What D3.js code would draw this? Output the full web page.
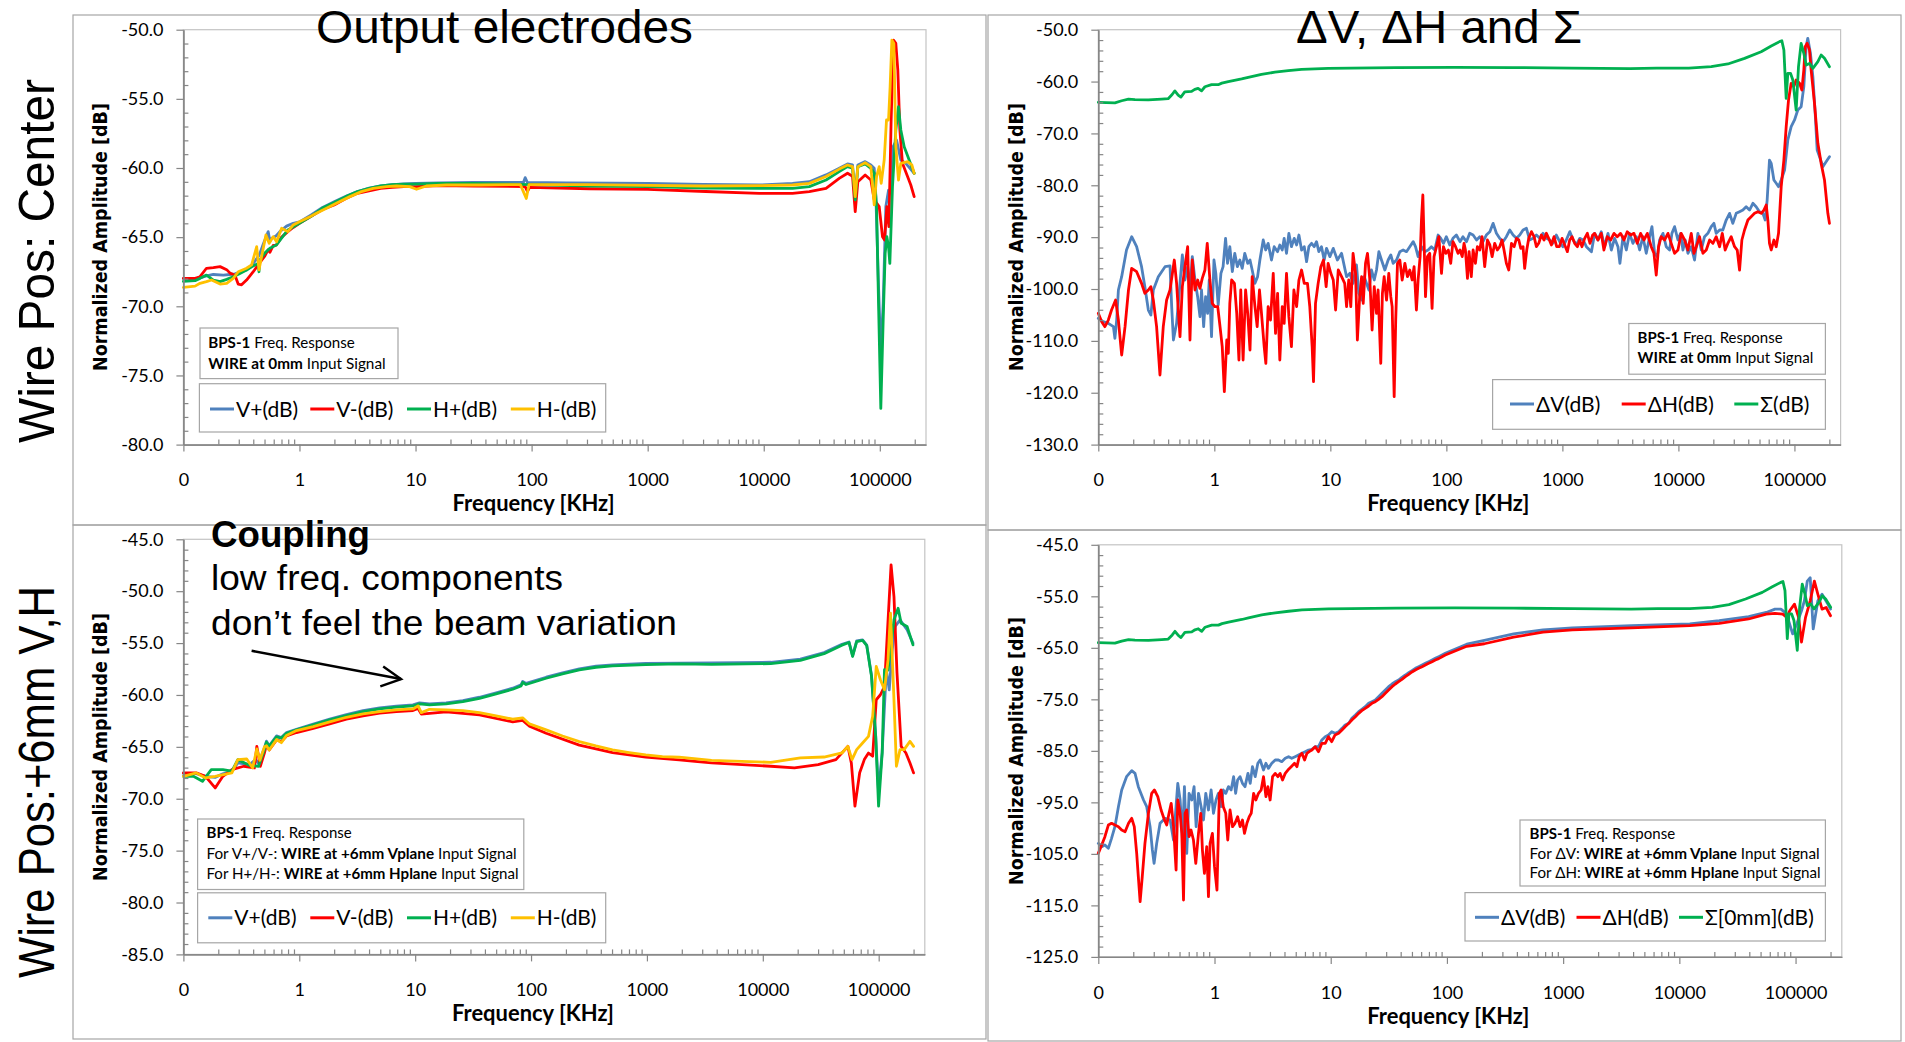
<!DOCTYPE html>
<html>
<head>
<meta charset="utf-8">
<script src="https://cdn.jsdelivr.net/npm/d3@7"></script>
<style>
  html, body { margin: 0; padding: 0; background: #fff; }
  svg { display: block; }
</style>
</head>
<body>
<script>
// ---------- Axis ticks ----------
const xDomain = [0.1, 250000];                       // kHz, log axis (first decade labelled "0")
const xTickValues = [0.1, 1, 10, 100, 1000, 10000, 100000];
const xTickLabels = ['0', '1', '10', '100', '1000', '10000', '100000'];
const yTicksTopLeft = [-50, -55, -60, -65, -70, -75, -80];
const yTicksTopRight = [-50, -60, -70, -80, -90, -100, -110, -120, -130];
const yTicksBottomLeft = [-45, -50, -55, -60, -65, -70, -75, -80, -85];
const yTicksBottomRight = [-45, -55, -65, -75, -85, -95, -105, -115, -125];

// ---------- Wire at centre: electrode outputs [kHz, dB] ----------
const centerVplus = [[0.1,-68.0],[0.126,-68.0],[0.139,-67.95],[0.158,-67.8],[0.181,-67.7],[0.221,-67.75],[0.252,-67.7],[0.278,-67.65],[0.35,-67.37],[0.4,-66.9],[0.45,-66.3],[0.488,-65.5],[0.538,-64.6],[0.556,-65.3],[0.575,-65.1],[0.631,-64.9],[0.678,-64.6],[0.774,-64.2],[0.883,-64.0],[1.0,-63.9],[1.26,-63.4],[1.58,-62.85],[1.99,-62.45],[2.51,-62.05],[3.16,-61.7],[3.98,-61.45],[5.01,-61.3],[6.31,-61.2],[7.94,-61.15],[10,-61.12],[15.8,-61.08],[31.6,-61.05],[60,-61.05],[85,-61.05],[88,-60.7],[92,-61.05],[200,-61.08],[500,-61.1],[1000,-61.12],[3000,-61.18],[9160,-61.23],[17700,-61.11],[24700,-60.99],[34400,-60.5],[44700,-60.02],[52700,-59.71],[58200,-59.78],[61400,-62.07],[64700,-59.78],[74800,-59.54],[83700,-59.78],[89500,-60.02],[92500,-62.07],[97500,-68.58],[102000,-73.4],[106900,-69.8],[112700,-62.79],[118900,-61.6],[124400,-61.83],[130300,-58.46],[139300,-57.98],[151700,-59.42],[167500,-59.66],[197700,-60.38]];
const centerVminus = [[0.1,-67.98],[0.126,-67.98],[0.139,-67.86],[0.158,-67.25],[0.181,-67.2],[0.207,-67.13],[0.236,-67.35],[0.252,-67.6],[0.278,-67.75],[0.297,-68.4],[0.317,-68.45],[0.35,-68.1],[0.4,-67.5],[0.45,-66.9],[0.5,-66.4],[0.538,-65.9],[0.556,-66.1],[0.594,-65.6],[0.631,-65.57],[0.702,-65.0],[0.794,-64.6],[0.883,-64.3],[1.0,-64.0],[1.26,-63.5],[1.58,-63.0],[1.99,-62.67],[2.51,-62.2],[3.16,-61.83],[3.98,-61.66],[5.01,-61.47],[6.31,-61.4],[7.94,-61.35],[10,-61.35],[15.8,-61.28],[31.6,-61.3],[88,-61.35],[92,-61.7],[96,-61.4],[316,-61.5],[1000,-61.55],[3160,-61.7],[9160,-61.83],[17700,-61.83],[24700,-61.71],[34400,-61.47],[44700,-60.75],[52700,-60.38],[58200,-60.6],[61400,-63.16],[64700,-60.99],[74800,-60.5],[83700,-60.87],[89500,-62.3],[98800,-62.79],[105500,-64.97],[109900,-65.21],[115000,-62.79],[119700,-64.24],[125200,-56.53],[131200,-50.75],[137400,-50.99],[142900,-52.9],[148900,-57.25],[156700,-59.66],[173400,-60.62],[184900,-61.23],[197700,-62.07]];
const centerHplus = [[0.1,-68.2],[0.126,-68.15],[0.139,-67.98],[0.158,-67.74],[0.181,-68.1],[0.207,-68.22],[0.236,-68.05],[0.269,-67.86],[0.307,-67.62],[0.35,-67.37],[0.4,-67.08],[0.44,-66.9],[0.448,-67.5],[0.456,-66.65],[0.5,-66.17],[0.556,-65.8],[0.631,-65.57],[0.794,-64.48],[1.0,-64.0],[1.26,-63.5],[1.58,-62.9],[1.99,-62.5],[2.51,-62.07],[3.16,-61.7],[3.98,-61.47],[5.01,-61.3],[6.31,-61.2],[7.94,-61.16],[10,-61.16],[15.8,-61.11],[31.6,-61.11],[100,-61.2],[316,-61.3],[1000,-61.35],[3160,-61.45],[9160,-61.47],[17700,-61.47],[24700,-61.35],[34400,-60.87],[44700,-60.26],[52700,-59.9],[58200,-60.02],[61400,-62.3],[64700,-59.9],[74800,-59.71],[83700,-60.02],[89500,-60.38],[93800,-62.9],[97500,-69.8],[102000,-77.38],[106900,-71.0],[111200,-66.17],[115000,-64.97],[118900,-65.7],[122000,-66.9],[128600,-61.35],[137400,-57.25],[144900,-55.57],[151700,-57.25],[162200,-58.46],[179100,-59.42],[197700,-60.38]];
const centerHminus = [[0.1,-68.63],[0.126,-68.54],[0.139,-68.34],[0.158,-68.22],[0.175,-68.1],[0.207,-68.39],[0.236,-68.34],[0.269,-67.98],[0.297,-67.5],[0.35,-67.25],[0.387,-67.0],[0.428,-65.69],[0.448,-67.37],[0.472,-66.4],[0.514,-64.84],[0.548,-65.45],[0.594,-64.96],[0.635,-65.33],[0.702,-64.36],[0.794,-64.6],[0.883,-64.12],[1.0,-63.88],[1.23,-63.52],[1.4,-63.28],[1.71,-62.91],[2.08,-62.55],[2.72,-62.07],[3.42,-61.71],[4.32,-61.47],[5.61,-61.35],[6.85,-61.3],[8.91,-61.35],[10.2,-61.54],[12.4,-61.3],[18.5,-61.23],[35.7,-61.23],[80,-61.2],[90,-62.2],[95,-61.2],[300,-61.2],[1000,-61.25],[3000,-61.3],[9160,-61.28],[17700,-61.23],[24700,-61.11],[34400,-60.62],[44700,-60.08],[52700,-59.78],[58200,-59.9],[61400,-62.07],[64700,-59.9],[74800,-59.62],[83700,-59.9],[89500,-62.67],[93800,-60.6],[98800,-59.9],[102800,-61.11],[109100,-59.42],[114200,-56.53],[118900,-56.53],[122700,-54.12],[127000,-50.75],[132100,-50.99],[137400,-58.46],[144900,-60.87],[151700,-59.66],[173400,-59.54],[188800,-59.78],[197700,-60.38]];

// ---------- Wire at centre: difference and sum signals [kHz, dB] ----------
const centerDeltaV = [[0.1,-105.65],[0.11,-106.3],[0.122,-106.62],[0.135,-107.26],[0.139,-109.51],[0.144,-105.98],[0.149,-100.19],[0.159,-97.62],[0.175,-92.48],[0.194,-89.91],[0.214,-91.84],[0.236,-95.69],[0.252,-99.55],[0.27,-104.05],[0.284,-105.01],[0.298,-100.19],[0.329,-97.62],[0.376,-95.69],[0.415,-95.56],[0.429,-103.4],[0.444,-109.83],[0.473,-106.62],[0.506,-98.91],[0.53,-93.44],[0.558,-98.26],[0.589,-95.69],[0.617,-100.19],[0.646,-93.76],[0.681,-98.26],[0.718,-101.48],[0.752,-105.33],[0.776,-100.19],[0.809,-107.26],[0.841,-101.48],[0.875,-104.69],[0.904,-98.26],[0.946,-109.19],[0.993,-94.41],[1.03,-96.98],[1.08,-103.08],[1.14,-96.98],[1.19,-95.69],[1.25,-90.23],[1.3,-95.05],[1.36,-91.84],[1.43,-96.66],[1.5,-93.12],[1.58,-95.69],[1.66,-94.41],[1.74,-96.01],[1.83,-93.12],[1.94,-95.05],[2.03,-94.41],[2.12,-96.33],[2.24,-98.91],[2.36,-97.62],[2.47,-94.41],[2.64,-90.55],[2.77,-92.48],[2.91,-91.19],[3.11,-94.41],[3.28,-91.84],[3.51,-92.8],[3.67,-91.51],[3.85,-92.48],[4.0,-90.23],[4.19,-93.12],[4.39,-89.26],[4.62,-91.84],[4.88,-90.23],[5.12,-91.51],[5.36,-89.59],[5.65,-92.48],[5.96,-91.84],[6.24,-94.73],[6.53,-91.84],[6.89,-91.19],[7.26,-91.84],[7.6,-90.87],[7.96,-92.8],[8.39,-91.84],[8.85,-94.41],[9.27,-92.16],[9.91,-93.76],[10.6,-92.16],[11.5,-94.41],[12.5,-93.12],
  [13.8,-97.62],[14.7,-96.98],[15.7,-98.91],[16.8,-95.37],[17.6,-100.83],[18.6,-102.12],[19.6,-97.62],[20.5,-98.91],[21.5,-100.19],[22.6,-96.33],[23.9,-98.26],[25,-96.33],[26.2,-92.8],[27.6,-94.41],[29.5,-96.33],[31.5,-94.41],[33.2,-93.44],[34.8,-95.05],[37.2,-94.41],[39.7,-92.8],[42.4,-92.48],[45.3,-92.8],[48.4,-91.84],[51.8,-90.87],[54.2,-91.84],[57.1,-93.76],[61,-91.84],[65.2,-92.8],[69.7,-92.48],[74.3,-91.84],[79.4,-92.48],[84.9,-89.59],[89.5,-90.23],[94.4,-91.19],[100,-89.91],[107,-91.51],[114,-90.23],[122,-89.59],[131,-90.87],[139,-89.91],[149,-90.87],[159,-89.26],[170,-89.59],[182,-90.55],[194,-89.91],[207,-90.87],[221,-89.59],[237,-88.94],[253,-87.34],[270,-89.26],[288,-90.23],[308,-90.87],[329,-89.91],[352,-88.62],[376,-89.59],[402,-90.23],[429,-89.59],[458,-88.62],[490,-88.3],[522,-90.55],[558,-90.23],[597,-89.59],[638,-90.23],[681,-89.26],[728,-90.23],[778,-90.55],[830,-91.19],[887,-89.59],[948,-90.87],[1010,-91.84],[1080,-90.55],[1160,-88.94],[1240,-90.55],[1320,-91.51],[1410,-90.23],[1510,-90.55],[1610,-91.84],[1780,-92.8],
  [1897,-89.27],[2028,-90.55],[2163,-88.95],[2312,-91.84],[2472,-89.27],[2642,-92.48],[2818,-90.23],[3013,-91.84],[3133,-95.05],[3327,-89.91],[3556,-92.48],[3793,-89.27],[4055,-91.2],[4335,-89.91],[4634,-92.48],[4943,-89.91],[5284,-93.12],[5649,-89.91],[5916,-87.98],[6237,-93.12],[6577,-93.77],[6887,-90.55],[7362,-89.27],[7852,-91.84],[8395,-92.48],[8790,-89.27],[9268,-87.98],[9908,-90.55],[10440,-89.27],[10940,-92.48],[11460,-90.55],[12080,-93.12],[12910,-91.84],[13770,-94.41],[14720,-89.27],[15740,-92.48],[16790,-89.91],[17950,-89.27],[19190,-87.98],[20230,-87.34],[21180,-89.27],[22650,-88.62],[24150,-88.62],[25820,-86.7],[27610,-85.41],[29440,-87.34],[31480,-85.41],[33650,-85.09],[35970,-84.77],[38370,-84.12],[41020,-84.77],[43850,-83.48],[46770,-84.12],[50000,-85.09],[53460,-85.41],[55980,-86.7],[58210,-82.84],[60950,-75.13],[63100,-75.77],[66530,-78.98],[69660,-79.62],[72950,-80.27],[76910,-78.98],[82220,-77.05],[87700,-71.27],[93760,-68.7],[100200,-67.41],[106900,-65.48],[114300,-64.84],[120500,-60.98],[126200,-53.27],[130300,-51.66],[137400,-54.56],[144200,-59.06],[151000,-66.13],[157000,-73.2],[164400,-74.48],[175800,-76.41],[187500,-75.45],[200400,-74.48]];
const centerDeltaH = [[0.1,-104.69],[0.107,-106.3],[0.114,-107.26],[0.122,-105.98],[0.13,-104.05],[0.141,-102.12],[0.149,-105.98],[0.159,-112.72],[0.17,-107.26],[0.182,-100.19],[0.194,-96.01],[0.214,-96.66],[0.236,-98.91],[0.252,-100.83],[0.27,-100.19],[0.284,-99.55],[0.298,-102.12],[0.318,-107.26],[0.34,-116.58],[0.363,-107.26],[0.388,-102.12],[0.415,-100.19],[0.452,-94.41],[0.473,-98.91],[0.506,-109.19],[0.53,-99.55],[0.558,-95.69],[0.589,-91.84],[0.617,-109.83],[0.646,-94.41],[0.681,-100.19],[0.718,-98.26],[0.752,-99.87],[0.787,-97.94],[0.83,-96.33],[0.869,-91.19],[0.916,-98.26],[0.959,-102.76],[1.01,-103.4],[1.07,-103.4],[1.12,-107.26],[1.17,-111.12],[1.22,-119.8],[1.28,-109.83],[1.32,-112.4],[1.36,-102.76],[1.41,-98.26],[1.49,-98.91],[1.56,-104.69],[1.63,-113.69],[1.69,-100.19],[1.77,-113.69],[1.86,-100.19],[1.94,-104.69],[2.03,-111.76],[2.12,-97.62],[2.24,-103.4],[2.34,-107.26],[2.45,-100.19],[2.55,-104.69],[2.69,-111.12],[2.78,-114.33],[2.91,-103.4],[3.05,-105.98],[3.22,-96.98],[3.37,-108.55],[3.51,-100.83],[3.67,-113.69],[3.85,-103.4],[4.0,-106.62],[4.19,-96.98],[4.39,-105.33],[4.62,-111.12],[4.85,-100.19],[5.12,-103.4],[5.36,-98.26],[5.65,-96.33],[5.96,-98.91],[6.35,-98.91],[6.65,-103.4],[6.97,-111.12],[7.16,-117.87],[7.45,-102.76],[7.85,-98.91],[8.28,-95.69],[8.73,-94.41],[9.2,-99.55],[9.57,-95.05],[10.1,-96.98],[10.6,-98.26],[11.1,-104.05],[11.7,-96.33],[12.5,-97.62],
  [13.3,-98.91],[13.8,-103.4],[14.4,-98.26],[15,-103.4],[15.7,-93.12],[16.5,-96.98],[17.1,-109.83],[17.9,-101.48],[18.6,-97.62],[19.2,-102.76],[20.1,-95.05],[20.9,-93.12],[21.9,-98.26],[22.9,-107.9],[23.9,-99.55],[25,-104.69],[25.8,-100.19],[27.2,-114.33],[28.1,-100.83],[29.1,-97.62],[30.5,-102.12],[31.9,-96.98],[33.2,-101.48],[34.1,-103.4],[35.5,-120.76],[36.6,-105.98],[37.9,-95.05],[39.7,-94.41],[41.6,-98.26],[43.9,-95.05],[46.2,-97.62],[48.4,-96.33],[50.7,-98.26],[52.7,-95.69],[55.2,-104.05],[57.1,-98.26],[59.4,-93.76],[61,-86.69],[62.7,-81.87],[64.3,-91.19],[66.1,-101.48],[68.7,-93.76],[71.9,-93.12],[75.3,-103.73],[78.3,-93.76],[82.2,-91.84],[86.1,-89.91],[90.8,-96.98],[94.4,-91.84],[98.9,-93.12],[104,-92.48],[109,-95.05],[114,-90.87],[120,-91.84],[126,-93.12],[131,-92.48],[137,-93.76],[142,-91.19],[146,-92.48],[152,-97.94],[157,-92.8],[164,-97.62],[170,-92.48],[178,-95.05],[185,-91.84],[194,-92.48],[203,-89.91],[214,-95.69],[226,-90.55],[237,-91.51],[248,-93.76],[261,-91.19],[275,-92.48],[288,-91.84],[302,-90.55],[314,-92.48],[329,-95.05],[345,-96.33],[364,-91.19],[384,-91.84],[402,-90.23],[421,-90.55],[438,-92.16],[458,-91.84],[473,-96.01],[493,-92.48],[513,-90.23],[541,-88.94],[570,-89.91],[597,-91.84],[625,-91.19],[659,-89.59],[695,-90.55],[728,-89.26],[762,-90.23],[804,-91.51],[847,-89.91],[893,-91.84],[942,-91.84],[993,-90.23],[1047,-91.51],[1104,-92.8],[1156,-90.55],[1211,-89.91],[1276,-91.19],[1346,-91.84],[1409,-90.55],[1476,-91.84],[1556,-90.23],[1641,-89.26],[1730,-91.19],[1824,-89.59],
  [1897,-89.27],[2028,-90.55],[2163,-89.27],[2280,-92.48],[2438,-89.91],[2606,-90.55],[2786,-89.27],[2972,-89.91],[3177,-89.27],[3396,-90.55],[3622,-88.95],[3873,-89.59],[4140,-89.27],[4416,-91.2],[4721,-89.27],[5047,-90.55],[5395,-89.27],[5834,-91.84],[6152,-93.12],[6442,-97.3],[6745,-91.84],[7112,-89.91],[7603,-90.55],[8128,-89.27],[8670,-91.2],[9268,-93.12],[9908,-92.48],[10570,-89.27],[11300,-90.55],[12080,-92.48],[12910,-89.27],[13610,-93.12],[14260,-91.84],[15210,-89.91],[16260,-93.12],[17380,-92.48],[18580,-90.55],[19820,-91.2],[21180,-89.91],[22650,-91.84],[23880,-89.27],[25290,-92.48],[26670,-91.2],[28510,-89.91],[30480,-91.84],[32140,-92.48],[33650,-96.34],[35240,-90.55],[37150,-88.62],[39720,-86.7],[42360,-86.05],[45290,-85.41],[48420,-85.09],[51760,-85.41],[54580,-84.77],[57150,-83.8],[59020,-86.7],[60950,-91.2],[63100,-92.48],[66530,-90.55],[69660,-91.84],[72950,-89.27],[76910,-80.27],[81100,-75.13],[84920,-68.7],[88920,-63.56],[93760,-60.34],[98860,-60.98],[103500,-59.7],[110700,-60.34],[115900,-61.63],[120500,-57.77],[123800,-53.27],[128800,-52.63],[134900,-53.92],[139300,-57.77],[148900,-64.2],[159200,-71.91],[169900,-75.77],[181600,-78.98],[194100,-85.41],[200400,-87.34]];
const sigma0mm = [[0.1,-64.0],[0.139,-64.1],[0.159,-63.7],[0.182,-63.4],[0.207,-63.5],[0.27,-63.55],[0.351,-63.4],[0.4,-63.3],[0.433,-62.5],[0.457,-61.8],[0.488,-62.6],[0.515,-63.0],[0.556,-62.0],[0.637,-61.9],[0.679,-61.5],[0.725,-61.3],[0.776,-61.8],[0.83,-61.0],[0.946,-60.6],[1.08,-60.6],[1.16,-60.3],[1.32,-60.0],[1.72,-59.5],[1.96,-59.2],[2.55,-58.6],[3.33,-58.2],[4.34,-57.9],[5.65,-57.65],[9.57,-57.45],[36.5,-57.3],[117,-57.25],[375,-57.3],[1200,-57.4],[3840,-57.5],[6500,-57.4],[12300,-57.4],[19190,-57.13],[26700,-56.61],[37150,-55.52],[51700,-54.24],[63100,-53.15],[74400,-52.3],[77900,-52.12],[81100,-53.9],[84900,-63.23],[87700,-58.41],[92500,-58.41],[96900,-59.7],[103500,-65.48],[108400,-57.13],[114200,-52.63],[120500,-54.56],[126200,-56.81],[134900,-56.5],[144200,-57.45],[159200,-56.17],[169900,-54.88],[181600,-55.52],[200400,-57.13]];

// ---------- Wire at +6 mm: electrode outputs [kHz, dB] ----------
const offsetVplus = [[0.1,-67.58],[0.129,-67.58],[0.155,-67.84],[0.188,-67.94],[0.219,-67.6],[0.262,-67.35],[0.295,-66.55],[0.373,-66.71],[0.42,-66.23],[0.445,-66.6],[0.5,-65.1],[0.521,-64.45],[0.55,-64.9],[0.637,-63.95],[0.7,-64.1],[0.776,-63.62],[0.946,-63.3],[1.32,-62.8],[1.83,-62.32],[2.55,-61.9],[3.55,-61.5],[4.94,-61.25],[6.87,-61.08],[9.57,-60.96],[10.9,-60.76],[13.3,-60.86],[18.5,-60.76],[25.8,-60.54],[35.9,-60.22],[50,-59.8],[69.5,-59.35],[82,-59.03],[84.7,-58.7],[90.6,-58.89],[135,-58.29],[187,-57.87],[261,-57.49],[363,-57.23],[505,-57.1],[977,-56.97],[1897,-56.93],[3614,-56.92],[11720,-56.85],[21090,-56.55],[33810,-55.92],[48190,-55.12],[55460,-54.9],[59570,-56.2],[64570,-54.8],[72610,-54.7],[78890,-55.2],[86700,-58.1],[94190,-63.9],[99770,-69.4],[107200,-65.5],[116400,-57.57],[123300,-59.5],[130900,-55.65],[138700,-53.4],[152800,-52.76],[175800,-53.72],[197700,-55.0]];
const offsetVminus = [[0.1,-67.51],[0.129,-67.51],[0.155,-67.84],[0.188,-68.96],[0.219,-67.84],[0.262,-67.2],[0.332,-66.87],[0.41,-67.03],[0.43,-64.95],[0.461,-66.87],[0.5,-65.6],[0.521,-64.8],[0.55,-65.3],[0.637,-64.33],[0.7,-64.5],[0.776,-63.95],[0.946,-63.62],[1.32,-63.21],[1.83,-62.79],[2.55,-62.34],[3.55,-62.02],[4.94,-61.76],[6.87,-61.6],[9.57,-61.5],[10.6,-61.3],[11.3,-61.85],[18.5,-61.63],[35.9,-61.92],[69.5,-62.6],[84.7,-62.45],[96.8,-63.0],[135,-63.69],[261,-64.84],[505,-65.55],[977,-66.0],[1897,-66.26],[3614,-66.55],[11720,-66.87],[18750,-67.03],[30060,-66.71],[42760,-66.23],[54200,-64.95],[58070,-66.55],[62370,-70.72],[68550,-67.5],[75160,-66.23],[81660,-65.6],[88720,-65.9],[95280,-60.46],[103500,-59.98],[112200,-59.18],[120500,-52.76],[127900,-47.47],[135500,-50.52],[143900,-57.89],[156300,-64.95],[171800,-65.59],[186200,-66.55],[200000,-67.51]];
const offsetHplus = [[0.1,-67.84],[0.122,-67.84],[0.146,-68.32],[0.174,-67.19],[0.219,-67.19],[0.262,-67.35],[0.295,-66.23],[0.373,-66.8],[0.445,-66.87],[0.5,-65.27],[0.521,-64.55],[0.55,-64.95],[0.637,-64.05],[0.7,-64.15],[0.776,-63.69],[0.946,-63.37],[1.32,-62.88],[1.83,-62.4],[2.55,-61.99],[3.55,-61.6],[4.94,-61.35],[6.87,-61.18],[9.57,-61.06],[10.9,-60.86],[13.3,-60.96],[18.5,-60.86],[25.8,-60.64],[35.9,-60.32],[50,-59.9],[69.5,-59.45],[82,-59.13],[84.7,-58.8],[90.6,-58.99],[135,-58.39],[187,-57.97],[261,-57.59],[363,-57.33],[505,-57.2],[977,-57.07],[1897,-57.01],[3614,-57.05],[11720,-56.98],[21090,-56.66],[33810,-56.02],[48190,-55.2],[55460,-54.94],[59570,-56.29],[64570,-54.85],[72610,-54.75],[78890,-55.25],[86700,-58.21],[94190,-63.99],[99770,-70.72],[107200,-65.59],[112200,-57.57],[120500,-57.6],[135500,-52.76],[147200,-51.64],[156300,-53.1],[175800,-53.4],[197700,-55.17]];
const offsetHminus = [[0.1,-67.84],[0.129,-67.51],[0.155,-68.0],[0.188,-67.84],[0.262,-67.51],[0.295,-66.23],[0.352,-66.17],[0.396,-67.03],[0.43,-65.2],[0.457,-66.3],[0.5,-65.0],[0.521,-64.9],[0.55,-65.3],[0.637,-64.3],[0.7,-64.6],[0.776,-63.9],[0.946,-63.43],[1.32,-63.05],[1.83,-62.6],[2.55,-62.15],[3.55,-61.83],[4.94,-61.6],[6.87,-61.44],[9.57,-61.35],[10.6,-61.05],[11.3,-61.7],[13.3,-61.38],[18.5,-61.44],[25.8,-61.5],[35.9,-61.7],[50,-62.02],[69.5,-62.34],[84.7,-62.2],[96.8,-62.79],[135,-63.37],[187,-63.95],[261,-64.49],[363,-64.91],[505,-65.29],[703,-65.55],[977,-65.78],[1361,-65.94],[1897,-66.0],[3614,-66.3],[11720,-66.49],[21090,-66.07],[33810,-65.98],[48190,-65.59],[54200,-64.95],[58880,-66.23],[64570,-65.27],[72610,-64.63],[81660,-63.99],[88720,-62.06],[95280,-57.25],[103500,-58.53],[112200,-59.5],[120500,-56.6],[126500,-52.12],[135500,-60.5],[142200,-66.87],[152800,-65.27],[165600,-65.27],[186200,-64.47],[200000,-64.95]];

// ---------- Wire at +6 mm: difference signals [kHz, dB] ----------
const offsetDeltaV = [[0.1,-102.96],[0.107,-103.6],[0.114,-103.28],[0.122,-103.93],[0.13,-101.98],[0.139,-99.72],[0.149,-95.84],[0.159,-92.6],[0.175,-90.01],[0.194,-88.85],[0.207,-89.37],[0.221,-91.95],[0.245,-94.54],[0.261,-95.84],[0.279,-99.72],[0.292,-104.25],[0.302,-106.84],[0.318,-102.96],[0.34,-99.07],[0.376,-98.1],[0.415,-98.42],[0.444,-102.31],[0.483,-91.31],[0.506,-94.54],[0.53,-102.31],[0.551,-91.95],[0.577,-104.9],[0.604,-93.25],[0.637,-94.54],[0.667,-91.95],[0.695,-99.72],[0.728,-93.25],[0.767,-95.84],[0.804,-98.42],[0.841,-93.25],[0.887,-96.48],[0.935,-92.6],[0.98,-97.13],[1.03,-94.54],[1.08,-93.25],[1.14,-95.84],[1.19,-92.6],[1.25,-93.25],[1.32,-91.95],[1.39,-92.6],[1.46,-90.01],[1.52,-93.25],[1.58,-90.66],[1.66,-90.01],[1.74,-91.31],[1.83,-91.95],[1.94,-89.37],[2.03,-91.31],[2.12,-88.07],[2.24,-90.01],[2.36,-87.42],[2.47,-86.78],[2.64,-88.72],[2.77,-87.42],[2.91,-88.4],[3.11,-87.42],[3.33,-86.78],[3.55,-86.78],[3.79,-87.1],[4.06,-86.45],[4.34,-86.13],[4.62,-86.45],[4.94,-86.13],[5.28,-85.81],[5.65,-85.48],[6.03,-85.16],[6.44,-84.84],[6.89,-84.71],[7.36,-84.19],[7.85,-84.19],[8.39,-82.89],[8.97,-82.25],[9.57,-81.92],[10.2,-81.28],[10.9,-81.6],[11.7,-81.28],[12.5,-80.63],[13.3,-79.98],[14.3,-79.66],[15.2,-78.69],[16.3,-78.04],[17.4,-77.39],[18.5,-76.94],[19.8,-76.42],[21.2,-75.78],[22.6,-75.45],[24.2,-75.13],[25.8,-74.48],[27.6,-73.83],[29.5,-73.19],[31.5,-72.54],[33.7,-72.02],[36,-71.57],[38.4,-71.25],[41,-70.73],[43.9,-70.28],[46.9,-69.82],[50,-69.43],[53.5,-68.98],[57.1,-68.66],[61.1,-68.33],[65.2,-68.01],[69.7,-67.69],[74.5,-67.36],[79.4,-67.04],[84.9,-66.72],[90.8,-66.39],[96.8,-66.07],[148,-64.3],[210,-63.57],[375,-62.29],[671,-61.52],[1200,-61.13],[3846,-60.69],[12300,-60.37],[22030,-59.73],[39450,-58.96],[55980,-58.13],[66530,-57.49],[74820,-57.49],[81100,-58.13],[87100,-59.73],[94410,-62.29],[102300,-60.37],[112500,-57.8],[119100,-55.88],[126200,-52.04],[133700,-51.4],[141900,-61.33],[155600,-55.88],[169000,-54.6],[189700,-56.52],[200000,-57.49]];
const offsetDeltaH = [[0.1,-104.9],[0.107,-103.28],[0.114,-101.66],[0.122,-99.4],[0.13,-99.07],[0.139,-99.4],[0.149,-99.72],[0.159,-100.37],[0.17,-100.69],[0.182,-99.07],[0.194,-98.1],[0.204,-99.72],[0.214,-104.9],[0.221,-109.43],[0.229,-114.28],[0.239,-109.43],[0.252,-102.96],[0.27,-97.13],[0.288,-93.25],[0.304,-92.6],[0.325,-93.9],[0.347,-96.48],[0.371,-98.42],[0.388,-99.4],[0.406,-97.13],[0.424,-95.19],[0.444,-99.72],[0.467,-108.13],[0.483,-94.54],[0.506,-97.13],[0.523,-101.01],[0.541,-113.96],[0.558,-97.13],[0.577,-96.48],[0.604,-101.66],[0.628,-100.37],[0.659,-102.31],[0.69,-106.84],[0.728,-101.01],[0.762,-97.13],[0.787,-104.25],[0.819,-108.78],[0.857,-103.6],[0.887,-113.31],[0.916,-102.96],[0.959,-101.01],[1.0,-107.48],[1.05,-112.01],[1.1,-93.25],[1.14,-92.6],[1.19,-95.84],[1.25,-97.13],[1.3,-102.31],[1.36,-96.48],[1.43,-99.72],[1.5,-99.07],[1.58,-97.78],[1.66,-99.72],[1.74,-98.42],[1.81,-101.01],[1.9,-99.07],[1.99,-97.78],[2.07,-97.13],[2.17,-93.25],[2.27,-94.54],[2.39,-93.25],[2.52,-92.6],[2.64,-90.01],[2.77,-93.9],[2.88,-91.95],[3.01,-94.54],[3.16,-90.01],[3.33,-89.37],[3.51,-90.01],[3.67,-89.37],[3.85,-90.66],[4.06,-89.37],[4.28,-88.72],[4.57,-88.07],[4.88,-87.42],[5.12,-88.07],[5.36,-86.13],[5.65,-85.48],[5.96,-86.78],[6.24,-85.48],[6.53,-85.16],[6.89,-84.84],[7.36,-84.19],[7.85,-85.16],[8.39,-83.54],[8.97,-83.54],[9.57,-82.25],[10.2,-83.22],[10.9,-81.92],[11.7,-81.6],[12.5,-80.95],[13.3,-80.31],[14.3,-79.66],[15.2,-79.01],[16.3,-78.37],[17.4,-77.72],[18.5,-77.2],[19.8,-76.75],[21.2,-76.29],[22.6,-75.78],[24.2,-75.45],[25.8,-75.0],[27.6,-74.48],[29.5,-73.83],[31.5,-73.19],[33.7,-72.54],[36,-72.02],[38.4,-71.57],[41,-71.12],[43.9,-70.6],[46.9,-70.15],[50,-69.69],[53.5,-69.3],[57.1,-68.98],[61.1,-68.66],[65.2,-68.33],[69.7,-68.01],[74.5,-67.69],[79.4,-67.36],[84.9,-67.1],[90.8,-66.72],[96.8,-66.39],[148,-64.7],[210,-64.21],[375,-62.93],[671,-61.97],[1200,-61.52],[3846,-61.13],[12300,-60.69],[22030,-60.24],[39450,-59.4],[55980,-58.45],[66530,-58.32],[77600,-58.45],[84140,-59.08],[89100,-57.8],[97900,-56.52],[106200,-59.08],[112500,-63.89],[121900,-59.08],[133700,-55.88],[145200,-52.04],[155600,-54.6],[169000,-57.49],[183300,-57.17],[200000,-58.77]];

// ---------- Layout ----------
const W = 1905, H = 1042;
const COLORS = { blue: '#4F81BD', red: '#FF0000', green: '#00B050', yellow: '#FFC000' };
const TICK_FONT = 'Lato, "Noto Sans", sans-serif';

const svg = d3.select('body').append('svg')
  .attr('width', W).attr('height', H)
  .attr('viewBox', `0 0 ${W} ${H}`);

const panels = [
  {
    frame: [73, 15, 986, 525], plot: [183.4, 29.7, 926, 444.6],
    yTicks: yTicksTopLeft, yMinor: 1,
    series: [
      { data: centerVplus, color: COLORS.blue },
      { data: centerVminus, color: COLORS.red },
      { data: centerHplus, color: COLORS.green },
      { data: centerHminus, color: COLORS.yellow }
    ],
    title: { text: 'Output electrodes', x: 504.5, y: 43, len: 377 },
    xTitle: { x: 533.6, y: 511 }, yTitle: { x: 107, y: 237 }, xLabelPad: 22,
    note: { box: [200, 328, 398, 378.6], x: 208.3, ys: [348.2, 368.5], lens: [146.5, 177.3],
      lines: [[['BPS-1', true], [' Freq. Response', false]],
              [['WIRE at 0mm', true], [' Input Signal', false]]] },
    legend: { box: [199.4, 383.7, 605.7, 432], lineY: 409, textY: 416.5,
      items: [[210, 'V+(dB)', COLORS.blue], [310.3, 'V-(dB)', COLORS.red], [407, 'H+(dB)', COLORS.green], [510.8, 'H-(dB)', COLORS.yellow]] }
  },
  {
    frame: [988, 15, 1901, 530], plot: [1098.3, 29.7, 1840.6, 444.6],
    yTicks: yTicksTopRight, yMinor: 2,
    series: [
      { data: centerDeltaV, color: COLORS.blue },
      { data: centerDeltaH, color: COLORS.red },
      { data: sigma0mm, color: COLORS.green }
    ],
    title: { text: 'ΔV, ΔH and Σ', x: 1439, y: 43, len: 286 },
    xTitle: { x: 1448.3, y: 511 }, yTitle: { x: 1022.7, y: 237 }, xLabelPad: 22,
    note: { box: [1628.8, 323.5, 1825.4, 374.2], x: 1637.6, ys: [342.5, 362.7], lens: [145, 175.7],
      lines: [[['BPS-1', true], [' Freq. Response', false]],
              [['WIRE at 0mm', true], [' Input Signal', false]]] },
    legend: { box: [1492.6, 379.6, 1825.4, 429.3], lineY: 404, textY: 411.5,
      items: [[1510, 'ΔV(dB)', COLORS.blue], [1621.7, 'ΔH(dB)', COLORS.red], [1734.3, 'Σ(dB)', COLORS.green]] }
  },
  {
    frame: [73, 525, 986, 1039], plot: [183.4, 539.3, 924.8, 954.4],
    yTicks: yTicksBottomLeft, yMinor: 1,
    series: [
      { data: offsetVplus, color: COLORS.blue },
      { data: offsetVminus, color: COLORS.red },
      { data: offsetHplus, color: COLORS.green },
      { data: offsetHminus, color: COLORS.yellow }
    ],
    title: null,
    xTitle: { x: 533, y: 1021 }, yTitle: { x: 107, y: 747 }, xLabelPad: 22,
    note: { box: [197.6, 819, 523.8, 889.5], x: 206.5, ys: [838, 858.9, 878.9], lens: [145.3, 310.2, 312],
      lines: [[['BPS-1', true], [' Freq. Response', false]],
              [['For V+/V-: ', false], ['WIRE at +6mm Vplane', true], [' Input Signal', false]],
              [['For H+/H-: ', false], ['WIRE at +6mm Hplane', true], [' Input Signal', false]]] },
    legend: { box: [197.6, 892.8, 605.7, 942.8], lineY: 917.8, textY: 925,
      items: [[208.3, 'V+(dB)', COLORS.blue], [310.3, 'V-(dB)', COLORS.red], [407, 'H+(dB)', COLORS.green], [510.8, 'H-(dB)', COLORS.yellow]] }
  },
  {
    frame: [988, 530, 1901, 1041], plot: [1098.3, 544.8, 1841.8, 956.9],
    yTicks: yTicksBottomRight, yMinor: 2,
    series: [
      { data: offsetDeltaV, color: COLORS.blue },
      { data: offsetDeltaH, color: COLORS.red },
      { data: sigma0mm, color: COLORS.green }
    ],
    title: null,
    xTitle: { x: 1448.3, y: 1024 }, yTitle: { x: 1022.7, y: 751 }, xLabelPad: 22,
    note: { box: [1520, 820, 1825.4, 886], x: 1529.6, ys: [838.9, 858.7, 878.4], lens: [145.5, 290, 291],
      lines: [[['BPS-1', true], [' Freq. Response', false]],
              [['For ΔV: ', false], ['WIRE at +6mm Vplane', true], [' Input Signal', false]],
              [['For ΔH: ', false], ['WIRE at +6mm Hplane', true], [' Input Signal', false]]] },
    legend: { box: [1465, 892.6, 1825.4, 941], lineY: 917.3, textY: 924.5,
      items: [[1475, 'ΔV(dB)', COLORS.blue], [1576.5, 'ΔH(dB)', COLORS.red], [1679, 'Σ[0mm](dB)', COLORS.green]] }
  }
];

function styleAxis(sel, withText) {
  sel.select('.domain').attr('stroke', '#868686').attr('stroke-width', 1.3);
  sel.selectAll('.tick line').attr('stroke', '#868686').attr('stroke-width', 1.2);
  if (withText) {
    sel.selectAll('.tick text')
      .attr('fill', '#000')
      .style('font-family', TICK_FONT)
      .style('font-size', '18px');
  }
}

function drawPanel(cfg) {
  const [fx0, fy0, fx1, fy1] = cfg.frame;
  const [px0, py0, px1, py1] = cfg.plot;
  const g = svg.append('g');

  g.append('rect')
    .attr('x', fx0).attr('y', fy0).attr('width', fx1 - fx0).attr('height', fy1 - fy0)
    .attr('fill', 'none').attr('stroke', '#a6a6a6').attr('stroke-width', 1.2);

  const x = d3.scaleLog().domain(xDomain).range([px0, px1]);
  const y = d3.scaleLinear().domain([d3.min(cfg.yTicks), d3.max(cfg.yTicks)]).range([py1, py0]);

  // plot-area border
  g.append('rect')
    .attr('x', px0).attr('y', py0).attr('width', px1 - px0).attr('height', py1 - py0)
    .attr('fill', 'none').attr('stroke', '#c4c4c4').attr('stroke-width', 1.2);

  // data lines
  const line = d3.line().x(d => x(d[0])).y(d => y(d[1]));
  cfg.series.forEach(s => {
    g.append('path')
      .attr('d', line(s.data))
      .attr('fill', 'none')
      .attr('stroke', s.color)
      .attr('stroke-width', 2.8)
      .attr('stroke-linejoin', 'round')
      .attr('stroke-linecap', 'round');
  });

  // minor ticks (inside)
  const yMin = d3.min(cfg.yTicks), yMax = d3.max(cfg.yTicks);
  const yMinorVals = d3.range(yMin, yMax + 1e-9, cfg.yMinor).filter(v => !cfg.yTicks.includes(v));
  const yMinorAxis = g.append('g').attr('transform', `translate(${px0},0)`)
    .call(d3.axisLeft(y).tickValues(yMinorVals).tickSizeInner(-5).tickSizeOuter(0).tickFormat(''));
  styleAxis(yMinorAxis, false);

  const xMinorVals = [];
  for (let e = -1; e <= 5; e++) {
    for (let m = 2; m <= 9; m++) {
      const v = m * Math.pow(10, e);
      if (v <= xDomain[1]) xMinorVals.push(v);
    }
  }
  const xMinorAxis = g.append('g').attr('transform', `translate(0,${py1})`)
    .call(d3.axisBottom(x).tickValues(xMinorVals).tickSizeInner(-5).tickSizeOuter(0).tickFormat(''));
  styleAxis(xMinorAxis, false);

  // major axes
  const yAxis = g.append('g').attr('transform', `translate(${px0},0)`)
    .call(d3.axisLeft(y).tickValues(cfg.yTicks).tickSizeInner(7).tickSizeOuter(0).tickPadding(13)
      .tickFormat(d => d.toFixed(1)));
  styleAxis(yAxis, true);

  const xAxis = g.append('g').attr('transform', `translate(0,${py1})`)
    .call(d3.axisBottom(x).tickValues(xTickValues).tickSizeInner(7).tickSizeOuter(0).tickPadding(cfg.xLabelPad)
      .tickFormat((d, i) => xTickLabels[i]));
  styleAxis(xAxis, true);

  // axis titles
  g.append('text')
    .attr('x', cfg.xTitle.x).attr('y', cfg.xTitle.y)
    .attr('text-anchor', 'middle')
    .attr('textLength', 162).attr('lengthAdjust', 'spacingAndGlyphs')
    .style('font-family', TICK_FONT).style('font-size', '22px').style('font-weight', 'bold')
    .text('Frequency [KHz]');

  g.append('text')
    .attr('transform', `translate(${cfg.yTitle.x},${cfg.yTitle.y}) rotate(-90)`)
    .attr('text-anchor', 'middle')
    .attr('textLength', 268).attr('lengthAdjust', 'spacingAndGlyphs')
    .style('font-family', '"DejaVu Sans", Verdana, sans-serif').style('font-size', '19px').style('font-weight', 'bold')
    .text('Normalized Amplitude [dB]');

  // note box
  const nb = cfg.note.box;
  g.append('rect')
    .attr('x', nb[0]).attr('y', nb[1]).attr('width', nb[2] - nb[0]).attr('height', nb[3] - nb[1])
    .attr('fill', '#fff').attr('stroke', '#a6a6a6').attr('stroke-width', 1.2);
  cfg.note.lines.forEach((parts, i) => {
    const t = g.append('text')
      .attr('x', cfg.note.x).attr('y', cfg.note.ys[i])
      .attr('textLength', cfg.note.lens[i]).attr('lengthAdjust', 'spacingAndGlyphs')
      .style('font-family', TICK_FONT).style('font-size', '15px').attr('fill', '#000');
    parts.forEach(([txt, bold]) => {
      t.append('tspan').style('font-weight', bold ? 'bold' : 'normal').text(txt);
    });
  });

  // legend box
  const lb = cfg.legend.box;
  g.append('rect')
    .attr('x', lb[0]).attr('y', lb[1]).attr('width', lb[2] - lb[0]).attr('height', lb[3] - lb[1])
    .attr('fill', '#fff').attr('stroke', '#a6a6a6').attr('stroke-width', 1.2);
  cfg.legend.items.forEach(([lx, label, color]) => {
    g.append('line')
      .attr('x1', lx).attr('x2', lx + 24).attr('y1', cfg.legend.lineY).attr('y2', cfg.legend.lineY)
      .attr('stroke', color).attr('stroke-width', 3);
    g.append('text')
      .attr('x', lx + 26).attr('y', cfg.legend.textY)
      .style('font-family', TICK_FONT).style('font-size', '21px').attr('fill', '#000')
      .text(label);
  });

  // panel title
  if (cfg.title) {
    g.append('text')
      .attr('x', cfg.title.x).attr('y', cfg.title.y)
      .attr('text-anchor', 'middle')
      .attr('textLength', cfg.title.len).attr('lengthAdjust', 'spacingAndGlyphs')
      .style('font-family', '"Liberation Sans", Arial, sans-serif').style('font-size', '46px')
      .attr('fill', '#000')
      .text(cfg.title.text);
  }
}

panels.forEach(drawPanel);

// row labels
const rowLabels = [
  { text: 'Wire Pos: Center', x: 54, y: 261, len: 364 },
  { text: 'Wire Pos:+6mm V,H', x: 54, y: 782, len: 392 }
];
rowLabels.forEach(r => {
  svg.append('text')
    .attr('transform', `translate(${r.x},${r.y}) rotate(-90)`)
    .attr('text-anchor', 'middle')
    .attr('textLength', r.len).attr('lengthAdjust', 'spacingAndGlyphs')
    .style('font-family', '"Liberation Sans", Arial, sans-serif').style('font-size', '50px')
    .attr('fill', '#000')
    .text(r.text);
});

// coupling annotation
const note = svg.append('g');
note.append('text')
  .attr('x', 211).attr('y', 547)
  .attr('textLength', 159).attr('lengthAdjust', 'spacingAndGlyphs')
  .style('font-family', '"Liberation Sans", Arial, sans-serif').style('font-size', '36px').style('font-weight', 'bold')
  .text('Coupling');
note.append('text')
  .attr('x', 211).attr('y', 590)
  .attr('textLength', 352).attr('lengthAdjust', 'spacingAndGlyphs')
  .style('font-family', '"Liberation Sans", Arial, sans-serif').style('font-size', '35px')
  .text('low freq. components');
note.append('text')
  .attr('x', 211).attr('y', 635)
  .attr('textLength', 466).attr('lengthAdjust', 'spacingAndGlyphs')
  .style('font-family', '"Liberation Sans", Arial, sans-serif').style('font-size', '35px')
  .text('don’t feel the beam variation');
note.append('line')
  .attr('x1', 251.6).attr('y1', 650.8).attr('x2', 401).attr('y2', 679.1)
  .attr('stroke', '#000').attr('stroke-width', 2.5);
note.append('polyline')
  .attr('points', '383.2,666.5 401,679.1 380.3,686.4')
  .attr('fill', 'none').attr('stroke', '#000').attr('stroke-width', 2.5);
</script>
</body>
</html>
